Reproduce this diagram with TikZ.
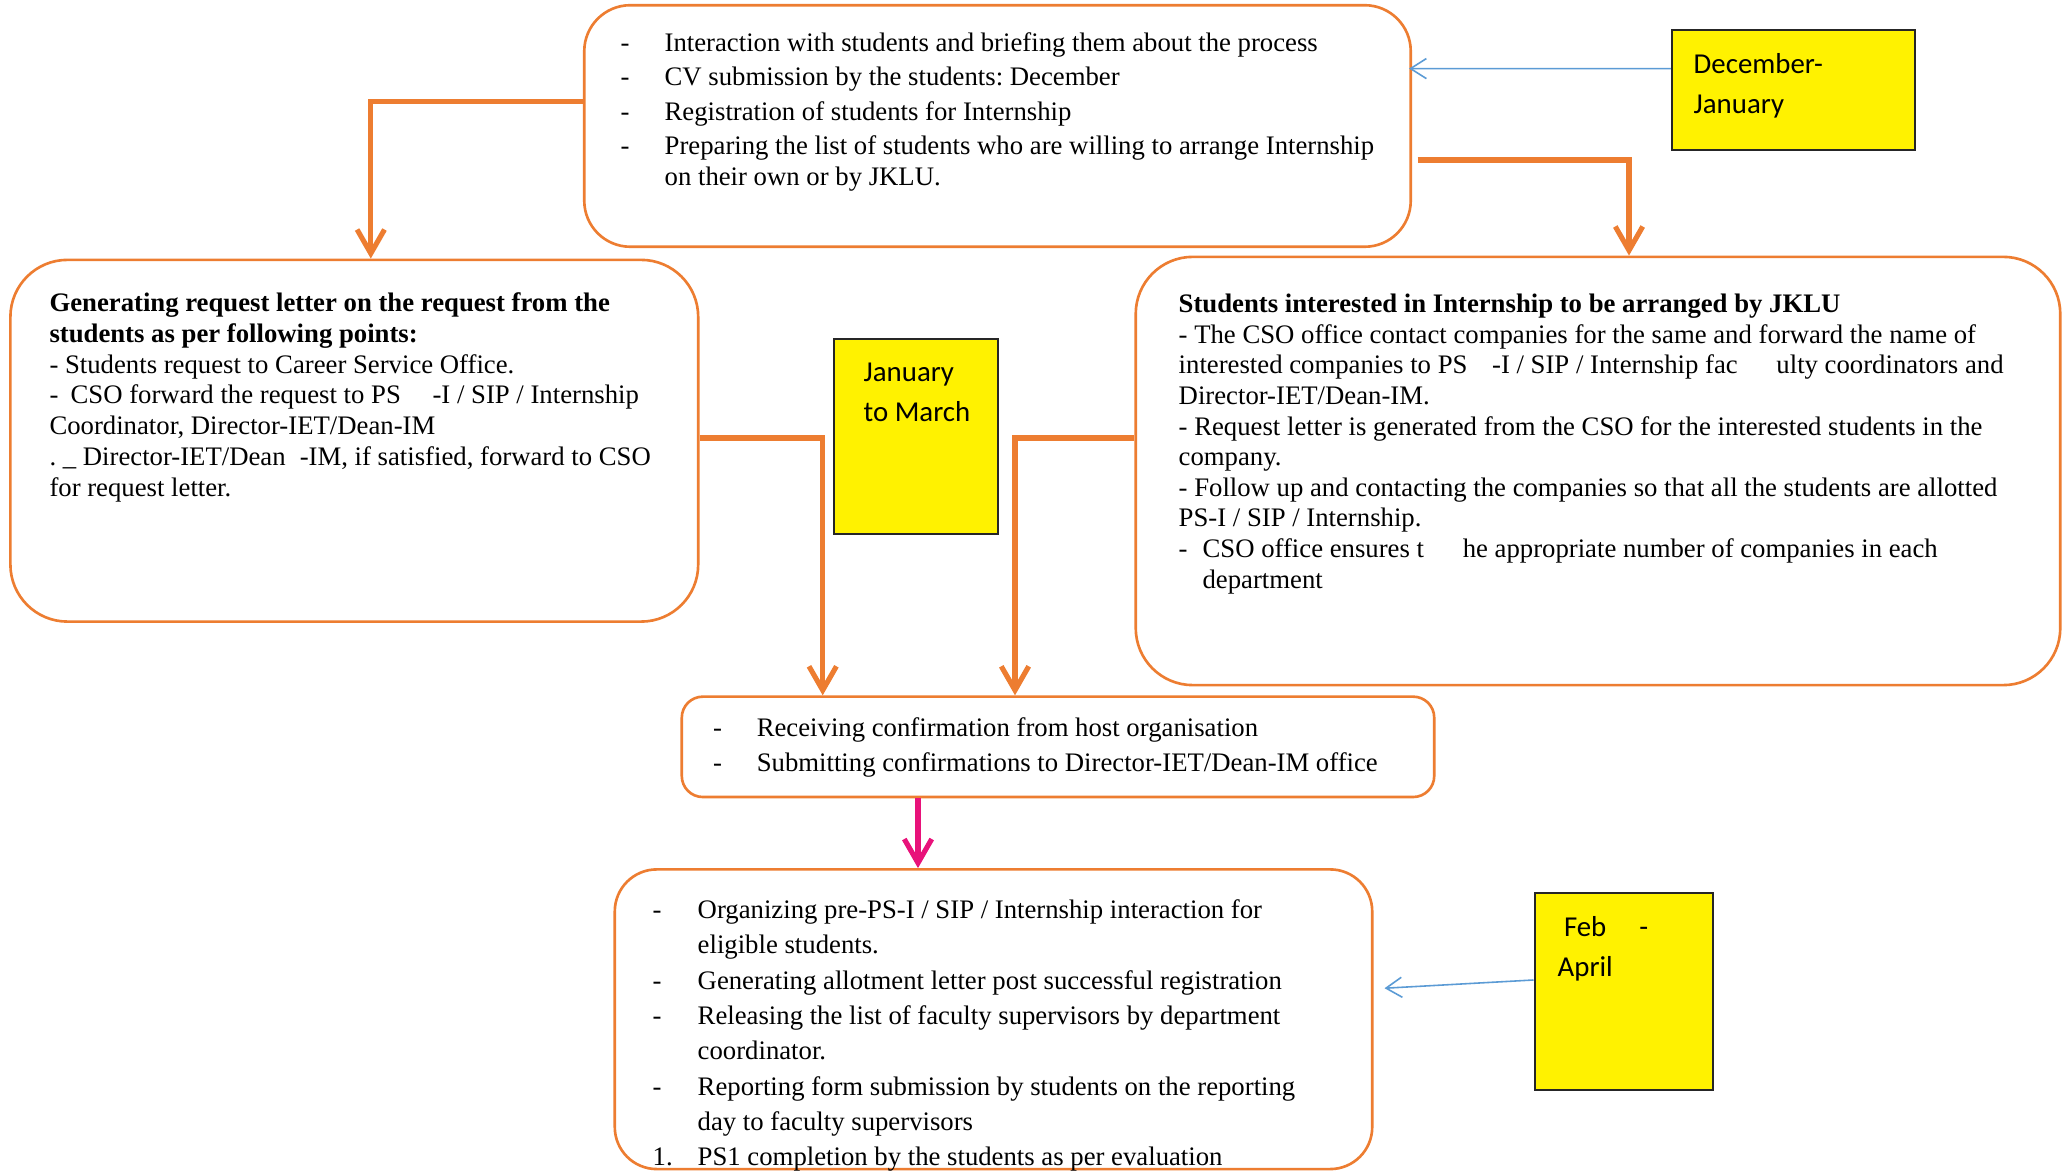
\documentclass[tikz,border=0pt]{standalone}
\usepackage{fontspec}
\setmainfont{Liberation Serif}
\newfontfamily\calibfont{Carlito}
\usetikzlibrary{arrows.meta,calc}
\definecolor{wordorange}{RGB}{237,125,49}
\definecolor{wordblue}{RGB}{91,155,213}
\definecolor{wordpink}{RGB}{232,18,122}
\newcommand{\bx}[1]{\begin{tabular}[t]{@{}l@{}}#1\end{tabular}}
\newcommand{\dsh}[1]{\makebox[#1][l]{-}}
\frenchspacing
\begin{document}
\begin{tikzpicture}[x=0.01cm,y=-0.01cm,
  obox/.style={draw=wordorange,line width=0.75pt,rounded corners=#1,inner sep=0pt,fill=white},
  ybox/.style={draw=black!85,line width=0.6pt,fill=yellow,inner sep=0pt},
  txt/.style={anchor=base west,inner sep=0pt,font=\fontsize{7.6}{8.7}\selectfont\frenchspacing},
  ytxt/.style={anchor=base west,inner sep=0pt,font=\calibfont\fontsize{8.2}{11.3}\selectfont},
  oarrow/.style={draw=wordorange,line width=1.45pt,-{Straight Barb[length=6.8pt,width=7.8pt]}},
  parrow/.style={draw=wordpink,line width=1.45pt,-{Straight Barb[length=6.8pt,width=7.8pt]}},
  barrow/.style={draw=wordblue,line width=0.45pt,-{Straight Barb[length=4.5pt,width=5.7pt]}}]
\useasboundingbox[fill=white] (0,0) rectangle (2069,1171);

% boxes
\node[obox=0.46cm, minimum width=8.26cm, minimum height=2.414cm] (top) at (997.5,126) {};
\node[obox=0.57cm, minimum width=6.874cm, minimum height=3.615cm] (left) at (354.3,440.75) {};
\node[obox=0.57cm, minimum width=9.24cm, minimum height=4.28cm] (right) at (1598,471) {};
\node[obox=0.21cm, minimum width=7.52cm, minimum height=1.003cm] (conf) at (1058,746.85) {};
\node[obox=0.42cm, minimum width=7.57cm, minimum height=2.995cm] (bot) at (993.5,1019.25) {};
\node[ybox, minimum width=1.635cm, minimum height=1.95cm] (jm) at (915.75,436.5) {};
\node[ybox, minimum width=2.426cm, minimum height=1.201cm] (dj) at (1793.3,90.35) {};
\node[ybox, minimum width=1.781cm, minimum height=1.97cm] (fa) at (1623.65,991.5) {};

% texts
\node[txt] (toptext) at (620,51.5) {\bx{%
\dsh{12.5pt}Interaction with students and briefing them about the process\\[1.1pt]
\dsh{12.5pt}CV submission by the students: December\\[1.1pt]
\dsh{12.5pt}Registration of students for Internship\\[1.1pt]
\dsh{12.5pt}Preparing the list of students who are willing to arrange Internship\\
\hspace*{12.5pt}on their own or by JKLU.}};

\node[txt,font=\fontsize{7.6}{8.76}\selectfont\frenchspacing] (lefttext) at (48.8,311.5) {\bx{%
\textbf{Generating request letter on the request from the}\\
\textbf{students as per following points:}\\
- Students request to Career Service Office.\\
\dsh{6pt}CSO forward the request to PS\hspace{9pt}-I / SIP / Internship\\
Coordinator, Director-IET/Dean-IM\\
. \_ Director-IET/Dean\hspace{4pt}-IM, if satisfied, forward to CSO\\
for request letter.}};

\node[txt] (righttext) at (1178,312.8) {\bx{%
\textbf{Students interested in Internship to be arranged by JKLU}\\
- The CSO office contact companies for the same and forward the name of\\
interested companies to PS\hspace{7pt}-I / SIP / Internship fac\hspace{11pt}ulty coordinators and\\
Director-IET/Dean-IM.\\
- Request letter is generated from the CSO for the interested students in the\\
company.\\
- Follow up and contacting the companies so that all the students are allotted\\
PS-I / SIP / Internship.\\
\dsh{6.8pt}CSO office ensures t\hspace{11pt}he appropriate number of companies in each\\
\hspace*{6.8pt}department}};

\node[txt] (conftext) at (712.5,736.4) {\bx{%
\dsh{12.4pt}Receiving confirmation from host organisation\\[1.4pt]
\dsh{12.4pt}Submitting confirmations to Director-IET/Dean-IM office}};

\node[txt,font=\fontsize{7.6}{10.05}\selectfont\frenchspacing] (bottext) at (652,918.5) {\bx{%
\dsh{12.8pt}Organizing pre-PS-I / SIP / Internship interaction for\\
\hspace*{12.8pt}eligible students.\\
\dsh{12.8pt}Generating allotment letter post successful registration\\
\dsh{12.8pt}Releasing the list of faculty supervisors by department\\
\hspace*{12.8pt}coordinator.\\
\dsh{12.8pt}Reporting form submission by students on the reporting\\
\hspace*{12.8pt}day to faculty supervisors\\
\makebox[12.8pt][l]{1.}PS1 completion by the students as per evaluation}};

\node[ytxt] (jmtext) at (863,382) {\bx{January\\to March}};
\node[ytxt] (djtext) at (1693,73.7) {\bx{December-\\January}};
\node[ytxt] (fatext) at (1557,936.6) {\bx{\hspace*{1.8pt}Feb\hspace{9.4pt}-\\April}};

% connectors
\draw[oarrow] ($(top.west)+(0,-24.4)$) -| ($(left.north)+(16.5,0)$);
\draw[oarrow] ($(top.east)+(5.5,34)$) -| ($(right.north)+(31,0)$);
\draw[oarrow] ($(left.east)+(0,-2.75)$) -| ($(conf.north)+(-235.3,0)$);
\draw[oarrow] ($(right.west)+(0,-33)$) -| ($(conf.north)+(-43,0)$);
\draw[parrow] ($(conf.south)+(-140,0)$) -- ($(bot.north)+(-75.5,0)$);
\draw[barrow] ($(dj.west)+(0,-21.75)$) -- ($(top.east)+(-3,-57.4)$);
\draw[barrow] ($(fa.west)+(0,-11.5)$) -- ($(bot.east)+(11,-31)$);
\end{tikzpicture}
\end{document}
